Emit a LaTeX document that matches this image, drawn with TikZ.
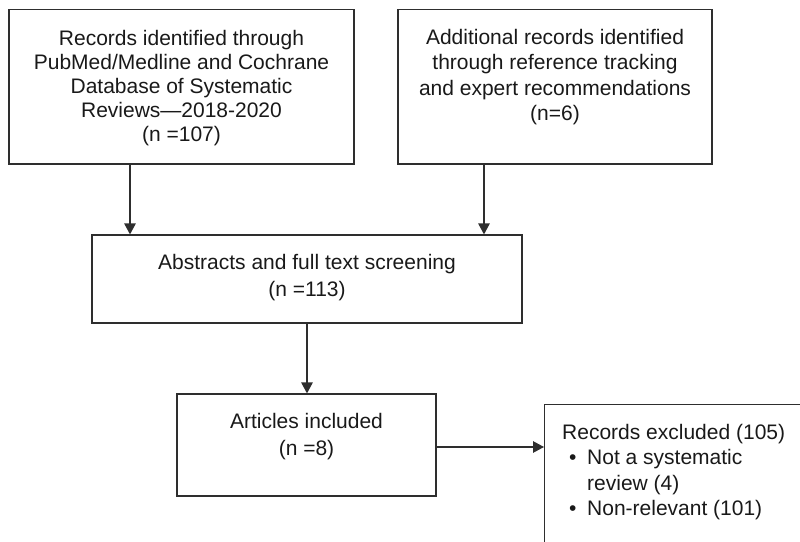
\documentclass[tikz,border=0pt]{standalone}
\usepackage{fontspec}
\setmainfont{Liberation Sans}
\usetikzlibrary{arrows.meta}
\definecolor{linegray}{HTML}{2E2E2E}

\begin{document}
\begin{tikzpicture}
      [x=1pt, y=-1pt,
      box/.style={draw=linegray, line width=1.2pt, inner sep=0pt, rectangle},
      boxtext/.style={align=center, inner sep=0pt, anchor=north, text=black!90,
        font=\fontsize{21}{25.5}\selectfont},
      arrow/.style={draw=linegray, line width=1.2pt, -{Triangle[length=11pt, width=11.5pt]}},
      ]
      \clip (0,0) rectangle (800,541);
      % boxes
      \node[box, minimum width=345pt, minimum height=154.5pt] (rec) at (181.5,86.75) {};
      \node[box, minimum width=314pt, minimum height=154.5pt] (add) at (555,86.75) {};
      \node[box, minimum width=430pt, minimum height=88pt] (scr) at (307,279) {};
      \node[box, minimum width=259pt, minimum height=102pt] (inc) at (306.5,445) {};
      \node[box, minimum width=280pt, minimum height=180pt, anchor=north west] (exc) at (544,404) {};
      % texts
      \node[boxtext, font=\fontsize{21}{24}\selectfont] (rectext) at ([yshift=-21.5pt]rec.north)
        {Records identified through\\PubMed/Medline and Cochrane\\Database of Systematic\\Reviews---2018-2020\\(n =107)};
      \node[boxtext] (addtext) at ([yshift=-20pt]add.north)
        {Additional records identified\\through reference tracking\\and expert recommendations\\(n=6)};
      \node[boxtext, font=\fontsize{21}{27}\selectfont] (scrtext) at ([yshift=-20pt]scr.north)
        {Abstracts and full text screening\\(n =113)};
      \node[boxtext, font=\fontsize{21}{26.5}\selectfont] (inctext) at ([yshift=-20pt]inc.north)
        {Articles included\\(n =8)};
      \node[boxtext, align=left, anchor=north west] (exctext) at ([xshift=18pt, yshift=-20pt]exc.north west)
        {Records excluded (105)\\
         \hspace*{7pt}\makebox[18pt][l]{\textbullet}Not a systematic\\
         \hspace*{25pt}review (4)\\
         \hspace*{7pt}\makebox[18pt][l]{\textbullet}Non-relevant (101)};
      % connectors
      \draw[arrow] ([xshift=-51.5pt]rec.south) -- ([xshift=-51.5pt]rec.south |- scr.north);
      \draw[arrow] ([xshift=-71pt]add.south) -- ([xshift=-71pt]add.south |- scr.north);
      \draw[arrow] (scr.south) -- (scr.south |- inc.north);
      \draw[arrow] ([yshift=-2pt]inc.east) -- ([yshift=-2pt]inc.east -| exc.west);
\end{tikzpicture}
\end{document}
